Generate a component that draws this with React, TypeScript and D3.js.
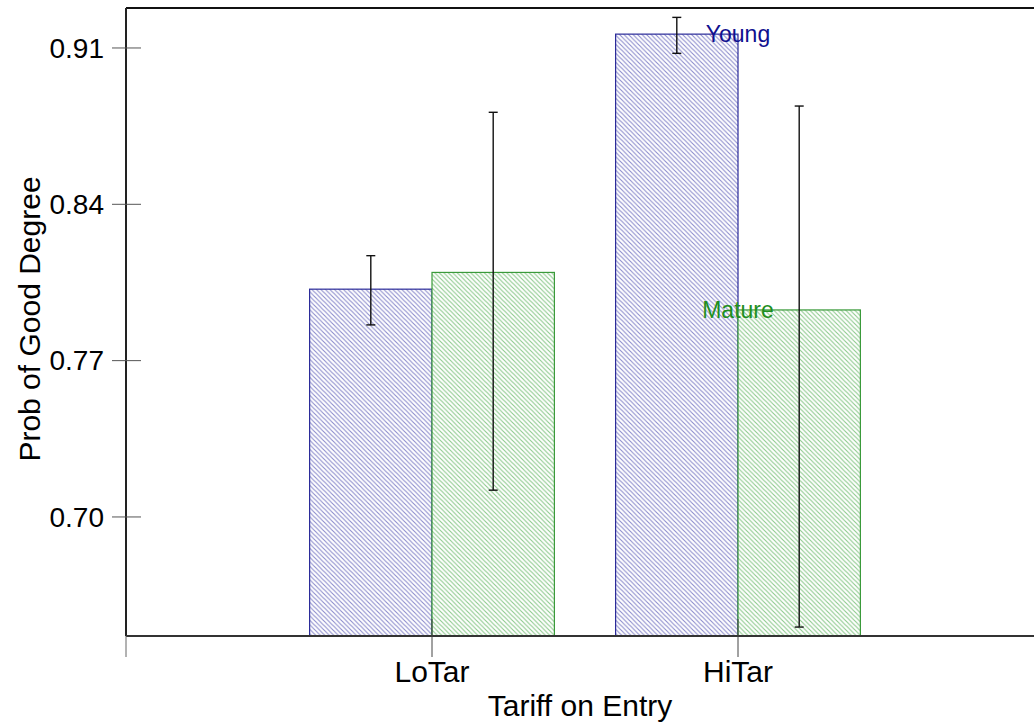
import React from "react";
import * as d3 from "d3";

// Tariff categories (x positions 1, 2 on a continuous axis)
const categories = ["LoTar", "HiTar"];
const categoryPos = [1, 2];

// Predicted probability of a good degree, by age group
const youngMeans = [0.802, 0.9162];
const matureMeans = [0.8095, 0.7927];

// Confidence intervals
const youngLow = [0.786, 0.9076];
const youngHigh = [0.817, 0.9237];
const matureLow = [0.712, 0.6507];
const matureHigh = [0.8812, 0.884];

const yTicks = [0.7, 0.77, 0.84, 0.91];

const W = 1034;
const H = 726;
const FONT = "'Liberation Sans', Arial, sans-serif";

export default function App() {
  const x = d3.scaleLinear().domain([0, 3]).range([126, 1044]);
  const y = d3.scaleLinear().domain([0.6467, 0.9279]).range([636, 8]);
  const barW = 0.4;
  const baseY = y(0.6467);

  const series = [
    { name: "Young", means: youngMeans, low: youngLow, high: youngHigh, offset: -barW, fill: "url(#hatchBlue)", stroke: "#2b2b99", text: "#10108f" },
    { name: "Mature", means: matureMeans, low: matureLow, high: matureHigh, offset: 0, fill: "url(#hatchGreen)", stroke: "#3a9a3a", text: "#1f8f1f" },
  ];

  return (
    <svg width={W} height={H} style={{ position: "absolute", left: 0, top: 0, background: "#fff" }} fontFamily={FONT}>
      <defs>
        <pattern id="hatchBlue" patternUnits="userSpaceOnUse" width={4.5} height={4.5}>
          <rect width={4.5} height={4.5} fill="#fff" />
          <path d="M-1,-1 L5.5,5.5 M-1,3.5 L1,5.5 M3.5,-1 L5.5,1" stroke="#8a8acb" strokeWidth={1.1} />
        </pattern>
        <pattern id="hatchGreen" patternUnits="userSpaceOnUse" width={4.5} height={4.5}>
          <rect width={4.5} height={4.5} fill="#fff" />
          <path d="M-1,-1 L5.5,5.5 M-1,3.5 L1,5.5 M3.5,-1 L5.5,1" stroke="#8ac88a" strokeWidth={1.1} />
        </pattern>
      </defs>

      {/* bars */}
      {series.map((s) =>
        s.means.map((m, i) => {
          const x0 = x(categoryPos[i] + s.offset);
          const x1 = x(categoryPos[i] + s.offset + barW);
          return (
            <rect
              key={s.name + i}
              x={x0}
              y={y(m)}
              width={x1 - x0}
              height={baseY - y(m)}
              fill={s.fill}
              stroke={s.stroke}
              strokeWidth={1.2}
            />
          );
        })
      )}

      {/* error bars */}
      {series.map((s) =>
        s.means.map((_, i) => {
          const cx = x(categoryPos[i] + s.offset + barW / 2);
          return (
            <g key={"e" + s.name + i} stroke="#111" strokeWidth={1.4}>
              <line x1={cx} x2={cx} y1={y(s.high[i])} y2={y(s.low[i])} />
              <line x1={cx - 4.5} x2={cx + 4.5} y1={y(s.high[i])} y2={y(s.high[i])} />
              <line x1={cx - 4.5} x2={cx + 4.5} y1={y(s.low[i])} y2={y(s.low[i])} />
            </g>
          );
        })
      )}

      {/* frame: top border, left axis, bottom axis */}
      <line x1={126} x2={W} y1={8} y2={8} stroke="#111" strokeWidth={2} />
      <line x1={126} x2={126} y1={8} y2={636} stroke="#222" strokeWidth={2} />
      <line x1={126} x2={W} y1={636} y2={636} stroke="#333" strokeWidth={2} />

      {/* y ticks */}
      {yTicks.map((t) => (
        <g key={t}>
          <line x1={112} x2={141} y1={y(t)} y2={y(t)} stroke="#555" strokeWidth={1} />
          <text x={104} y={y(t)} dy="0.35em" textAnchor="end" fontSize={28} fill="#000">
            {t.toFixed(2)}
          </text>
        </g>
      ))}

      {/* x ticks */}
      <line x1={126} x2={126} y1={636} y2={657} stroke="#666" strokeWidth={1} />
      {categories.map((c, i) => (
        <g key={c}>
          <line x1={x(categoryPos[i])} x2={x(categoryPos[i])} y1={619} y2={657} stroke="#444" strokeWidth={1} />
          <text x={x(categoryPos[i])} y={682} textAnchor="middle" fontSize={30} fill="#000">
            {c}
          </text>
        </g>
      ))}

      {/* axis titles */}
      <text x={580} y={716} textAnchor="middle" fontSize={30} fill="#000">
        Tariff on Entry
      </text>
      <text transform={`translate(40,${319}) rotate(-90)`} textAnchor="middle" fontSize={30} fill="#000">
        Prob of Good Degree
      </text>

      {/* series labels at the HiTar bars */}
      {series.map((s) => (
        <text key={"l" + s.name} x={x(categoryPos[1])} y={y(s.means[1])} dy="0.35em" textAnchor="middle" fontSize={23} fill={s.text}>
          {s.name}
        </text>
      ))}
    </svg>
  );
}
